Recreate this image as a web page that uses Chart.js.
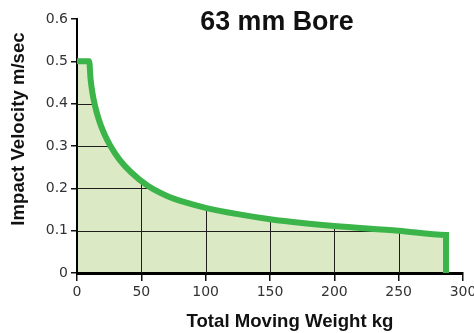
<!DOCTYPE html>
<html>
<head>
<meta charset="utf-8">
<style>
  body { margin: 0; background: #fff; }
  #wrap { width: 474px; height: 333px; position: relative; }
</style>
</head>
<body>
<div id="wrap"><canvas id="boreChart"></canvas></div>

<script src="https://cdn.jsdelivr.net/npm/chart.js"></script>
<script>
  // (flat top, curve, then a drop at the max weight)
  const weights = [0, 9.5, 10.5, 12, 14, 17, 21, 26, 33, 42, 55, 70, 85, 100, 125, 150, 175, 200, 250, 286.8, 286.8];
  const velocities = [0.5, 0.5, 0.46, 0.425, 0.395, 0.362, 0.33, 0.30, 0.268, 0.238, 0.206, 0.182, 0.166, 0.154, 0.139, 0.127, 0.118, 0.111, 0.1, 0.09, 0];
  const xTicks = [0, 50, 100, 150, 200, 250, 300];
  const yTicks = [0, 0.1, 0.2, 0.3, 0.4, 0.5, 0.6];

  const tickFont = { family: 'DejaVu Sans', size: 14 };

  // grid lines only inside the filled area, plus the titles
  const innerGrid = {
    id: 'innerGrid',
    beforeDatasetsDraw(chart) {
      const ctx = chart.ctx;
      const pts = chart.getDatasetMeta(0).data;
      const xs = chart.scales.x, ys = chart.scales.y;
      const bottom = ys.getPixelForValue(0);
      ctx.save();
      ctx.beginPath();
      ctx.moveTo(pts[0].x, bottom);
      pts.forEach(p => ctx.lineTo(p.x, p.y));
      ctx.lineTo(pts[pts.length - 1].x, bottom);
      ctx.closePath();
      ctx.clip();
      ctx.strokeStyle = '#1e1e1e';
      ctx.lineWidth = 1;
      ctx.beginPath();
      xTicks.slice(1).forEach(v => {
        const x = Math.round(xs.getPixelForValue(v)) + 0.5;
        ctx.moveTo(x, ys.top); ctx.lineTo(x, bottom);
      });
      yTicks.slice(1).forEach(v => {
        const y = Math.round(ys.getPixelForValue(v)) + 0.5;
        ctx.moveTo(xs.left, y); ctx.lineTo(xs.right, y);
      });
      ctx.stroke();
      ctx.restore();
    },
    afterDraw(chart) {
      const ctx = chart.ctx;
      ctx.save();
      ctx.fillStyle = '#111';
      ctx.textAlign = 'center';
      ctx.textBaseline = 'alphabetic';
      ctx.font = 'bold 26.8px "Liberation Sans"';
      ctx.fillText('63 mm Bore', 277, 30);
      ctx.font = 'bold 18.6px "Liberation Sans"';
      ctx.fillText('Total Moving Weight kg', 290, 327);
      ctx.translate(24, 129);
      ctx.rotate(-Math.PI / 2);
      ctx.fillText('Impact Velocity m/sec', 0, 0);
      ctx.restore();
    }
  };

  new Chart(document.getElementById('boreChart'), {
    type: 'line',
    data: {
      datasets: [{
        data: weights.map((w, i) => ({ x: w, y: velocities[i] })),
        borderColor: '#3bb54a',
        backgroundColor: '#dbe9c4',
        borderWidth: 6,
        pointRadius: 0,
        fill: 'origin',
        cubicInterpolationMode: 'monotone',
        borderJoinStyle: 'miter'
      }]
    },
    options: {
      responsive: true,
      maintainAspectRatio: false,
      animation: false,
      layout: { padding: { top: 19, right: 11, left: 0, bottom: 0 } },
      scales: {
        x: {
          type: 'linear',
          min: 0,
          max: 300,
          afterBuildTicks: s => { s.ticks = xTicks.map(v => ({ value: v })); },
          afterFit: s => { s.height = 60; s.paddingRight = 0; s.paddingLeft = 0; },
          ticks: { font: tickFont, color: '#333', padding: 3, maxRotation: 0 },
          grid: { drawOnChartArea: false, drawTicks: true, tickLength: 8, color: '#111', lineWidth: 1.5 },
          border: { display: true, color: '#000', width: 3 }
        },
        y: {
          min: 0,
          max: 0.6,
          afterBuildTicks: s => { s.ticks = yTicks.map(v => ({ value: v })); },
          afterFit: s => { s.width = 77; s.paddingTop = 0; s.paddingBottom = 0; },
          ticks: { font: tickFont, color: '#333', padding: 3, callback: v => String(v) },
          grid: { drawOnChartArea: false, drawTicks: true, tickLength: 6, color: '#111', lineWidth: 1.5 },
          border: { display: true, color: '#000', width: 2 }
        }
      },
      plugins: {
        legend: { display: false },
        tooltip: { enabled: false },
        filler: { drawTime: 'beforeDraw' }
      }
    },
    plugins: [innerGrid]
  });
</script>
</body>
</html>
